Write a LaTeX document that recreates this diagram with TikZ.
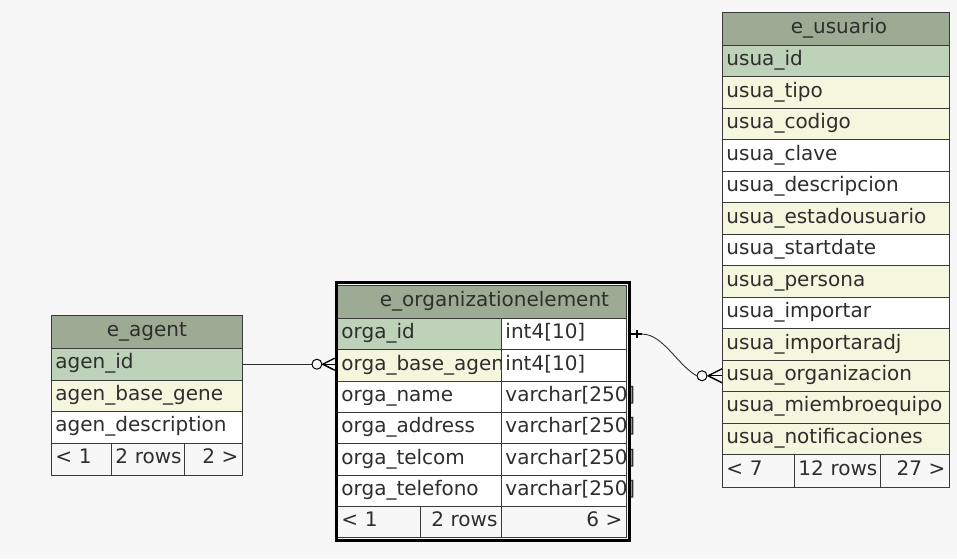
\documentclass[tikz,border=0pt]{standalone}
\usepackage{fontspec}
\setmainfont{DejaVu Sans}
\usetikzlibrary{calc}
\definecolor{bgc}{HTML}{F7F7F7}
\definecolor{ttl}{HTML}{9DAB94}
\definecolor{pkc}{HTML}{BED2B9}
\definecolor{fkc}{HTML}{F5F6DE}
\definecolor{lnc}{HTML}{3A3A3A}
\definecolor{txc}{HTML}{2E2E2E}
\newcommand\ecell[7]{\pgfmathsetmacro\ecw{#4-8}\node[cell, minimum width=#4pt, minimum height=#5pt, text width=\ecw pt, #6] (#1) at (#2,#3) {#7};}
\begin{document}
\begin{tikzpicture}[x=1pt,y=-1pt,
  cell/.style={draw=lnc, line width=0.9pt, anchor=north west, inner xsep=4pt, inner ysep=0pt,
    text height=14.5pt, text depth=5pt, font=\fontsize{20}{22}\selectfont, text=txc, align=left},
  conn/.style={draw=txc, line width=0.9pt},
  crow/.style={draw=black, line width=1.4pt},
  ring/.style={circle, draw=black, fill=bgc, line width=1pt, minimum size=10pt, inner sep=0pt}]
\fill[bgc] (0,0) rectangle (957,559);
\useasboundingbox (0,0) rectangle (957,559);

% ---------- e_agent ----------
\ecell{agt}{51}{315}{191}{33}{fill=ttl, align=center}{e\_agent}
\ecell{agid}{51}{348}{191}{31.5}{fill=pkc}{agen\_id}
\ecell{agbase}{51}{379.5}{191}{31.5}{fill=fkc}{agen\_base\_gene}
\ecell{agdesc}{51}{411}{191}{31.5}{fill=white}{agen\_description}
\ecell{agfa}{51}{442.5}{60}{32.5}{fill=bgc}{< 1}
\ecell{agfb}{111}{442.5}{73}{32.5}{fill=bgc}{\mbox{2 rows}}
\ecell{agfc}{184}{442.5}{58}{32.5}{fill=bgc, align=right}{2 >}

% ---------- e_organizationelement ----------
\ecell{ogt}{337}{285}{289}{33}{fill=ttl, align=center}{\hspace*{25pt}e\_organizationelement}
\ecell{ogidn}{337}{318}{164}{31.3}{fill=pkc}{orga\_id}
\ecell{ogidt}{501}{318}{125}{31.3}{fill=white}{int4[10]}
\ecell{ogbasen}{337}{349.3}{164}{31.3}{fill=fkc}{orga\_base\_agen}
\ecell{ogbaset}{501}{349.3}{125}{31.3}{fill=white}{int4[10]}
\ecell{ognamen}{337}{380.6}{164}{31.3}{fill=white}{orga\_name}
\ecell{ognamet}{501}{380.6}{125}{31.3}{fill=white}{varchar[250]}
\ecell{ogaddn}{337}{411.9}{164}{31.3}{fill=white}{orga\_address}
\ecell{ogaddt}{501}{411.9}{125}{31.3}{fill=white}{varchar[250]}
\ecell{ogtcn}{337}{443.2}{164}{31.3}{fill=white}{orga\_telcom}
\ecell{ogtct}{501}{443.2}{125}{31.3}{fill=white}{varchar[250]}
\ecell{ogtfn}{337}{474.5}{164}{31.3}{fill=white}{orga\_telefono}
\ecell{ogtft}{501}{474.5}{125}{31.3}{fill=white}{varchar[250]}
\ecell{ogfa}{337}{505.8}{83}{31.2}{fill=bgc}{< 1}
\ecell{ogfb}{420}{505.8}{81}{31.2}{fill=bgc, align=right}{\mbox{2 rows}}
\ecell{ogfc}{501}{505.8}{125}{31.2}{fill=bgc, align=right}{6 >}
\node[draw=black, line width=3.2pt, minimum width=293pt, minimum height=257.7pt,
  anchor=north west, inner sep=0pt] (orgsel) at (334.7,281) {};

% ---------- e_usuario ----------
\ecell{ust}{722}{12}{227}{33}{fill=ttl, align=center}{\hspace*{6pt}e\_usuario}
\ecell{usid}{722}{45}{227}{31.46}{fill=pkc}{usua\_id}
\ecell{ustipo}{722}{76.46}{227}{31.46}{fill=fkc}{usua\_tipo}
\ecell{uscod}{722}{107.92}{227}{31.46}{fill=fkc}{usua\_codigo}
\ecell{uscla}{722}{139.38}{227}{31.46}{fill=white}{usua\_clave}
\ecell{usdes}{722}{170.84}{227}{31.46}{fill=white}{usua\_descripcion}
\ecell{usest}{722}{202.3}{227}{31.46}{fill=fkc}{usua\_estadousuario}
\ecell{ussta}{722}{233.76}{227}{31.46}{fill=white}{usua\_startdate}
\ecell{usper}{722}{265.22}{227}{31.46}{fill=fkc}{usua\_persona}
\ecell{usimp}{722}{296.68}{227}{31.46}{fill=white}{usua\_importar}
\ecell{usimpa}{722}{328.14}{227}{31.46}{fill=fkc}{usua\_importaradj}
\ecell{usorg}{722}{359.6}{227}{31.46}{fill=fkc}{usua\_organizacion}
\ecell{usmie}{722}{391.06}{227}{31.46}{fill=fkc}{usua\_miembroequipo}
\ecell{usnot}{722}{422.52}{227}{31.48}{fill=fkc}{usua\_notificaciones}
\ecell{usfa}{722}{454}{72}{33}{fill=bgc}{< 7}
\ecell{usfb}{794}{454}{86}{33}{fill=bgc}{\mbox{12 rows}}
\ecell{usfc}{880}{454}{69}{33}{fill=bgc, align=right}{27 >}

% ---------- connector e_agent -> e_organizationelement ----------
\coordinate (c1) at ($(agid.east)+(74,0)$);
\coordinate (f1) at (agid.east -| orgsel.west);
\draw[conn] (agid.east) -- (f1);
\node[ring] (o1) at (c1) {};
\draw[crow] ($(f1)+(-12,0)$) -- ($(f1)+(0,-6)$);
\draw[crow] ($(f1)+(-12,0)$) -- ($(f1)+(0,6)$);
\draw[crow] ($(f1)+(-12,0)$) -- (f1);

% ---------- connector e_organizationelement -> e_usuario ----------
\coordinate (s2) at (ogidt.east -| orgsel.east);
\coordinate (c2) at ($(usorg.west)+(-20,0)$);
\node[ring] (o2) at (c2) {};
\draw[crow, line width=1.6pt] (s2) -- ($(s2)+(11,0)$);
\draw[crow, line width=1.2pt] ($(s2)+(6,-4)$) -- ($(s2)+(6,4)$);
\draw[conn] ($(s2)+(11,0)$) .. controls ($(s2)+(32,0)$) and ($(o2.west)+(-20,-12)$) .. (o2.west);
\draw[conn] (o2.east) -- (usorg.west);
\draw[crow] ($(usorg.west)+(-14,0)$) -- ($(usorg.west)+(0,-7)$);
\draw[crow] ($(usorg.west)+(-14,0)$) -- ($(usorg.west)+(0,7)$);
\draw[crow] ($(usorg.west)+(-14,0)$) -- (usorg.west);
\end{tikzpicture}
\end{document}
